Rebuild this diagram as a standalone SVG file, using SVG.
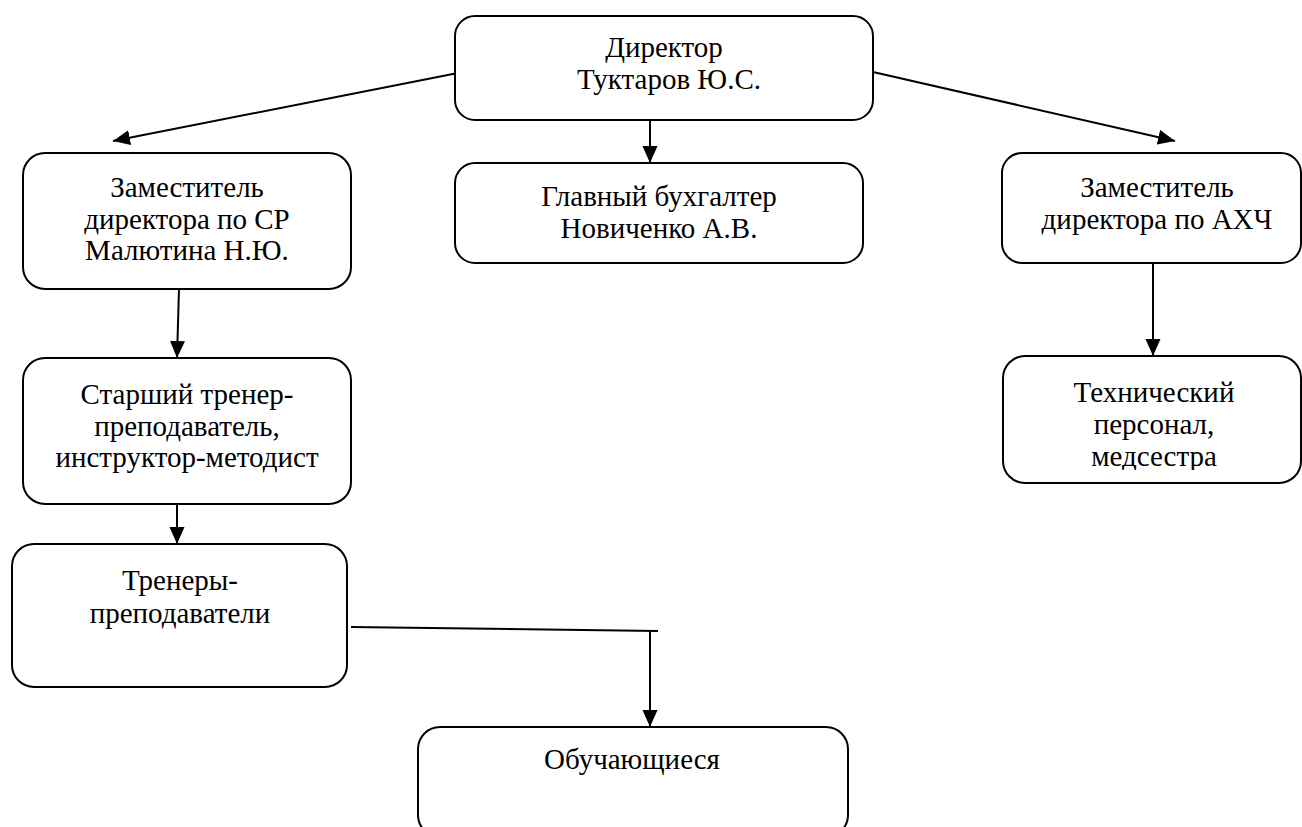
<svg xmlns="http://www.w3.org/2000/svg" width="1302" height="827" viewBox="0 0 1302 827">
<style>
.box{fill:#fff;stroke:#000;stroke-width:2}
.t{font-family:'Times New Roman','Liberation Serif',Tinos,'DejaVu Serif',serif;font-size:29px;fill:#000;text-anchor:middle}
.c{fill:none;stroke:#000;stroke-width:2}
</style>
<defs>
<marker id="ah" markerUnits="userSpaceOnUse" markerWidth="18" markerHeight="16" refX="17" refY="7.5" orient="auto">
<path d="M0,0 L17,7.5 L0,15 Z" fill="#000"/>
</marker>
<clipPath id="clipTech"><rect x="990" y="350" width="320" height="120"/></clipPath>
</defs>
<rect width="1302" height="827" fill="#fff"/>
<g id="connectors">
<line class="c" x1="463" y1="72" x2="113" y2="141" marker-end="url(#ah)"/>
<line class="c" x1="873" y1="72" x2="1175" y2="141" marker-end="url(#ah)"/>
<line class="c" x1="650" y1="120" x2="650" y2="163" marker-end="url(#ah)"/>
<line class="c" x1="179" y1="289" x2="177" y2="358" marker-end="url(#ah)"/>
<line class="c" x1="177" y1="504" x2="177" y2="544" marker-end="url(#ah)"/>
<line class="c" x1="1153" y1="263" x2="1153" y2="356" marker-end="url(#ah)"/>
<line class="c" x1="351" y1="627" x2="658" y2="631"/>
<line class="c" x1="650" y1="631" x2="650" y2="727" marker-end="url(#ah)"/>
</g>
<g id="director">
<rect class="box" x="455" y="16" width="418" height="104" rx="20"/>
<text class="t" x="664" y="57">Директор</text>
<text class="t" x="669" y="89">Туктаров Ю.С.</text>
</g>
<g id="deputy-sr">
<rect class="box" x="23" y="153" width="328" height="136" rx="22"/>
<text class="t" x="187" y="197">Заместитель</text>
<text class="t" x="187" y="229">директора по СР</text>
<text class="t" x="187" y="260">Малютина Н.Ю.</text>
</g>
<g id="accountant">
<rect class="box" x="455" y="163" width="408" height="100" rx="20"/>
<text class="t" x="659" y="206">Главный бухгалтер</text>
<text class="t" x="659" y="238">Новиченко А.В.</text>
</g>
<g id="deputy-ahch">
<rect class="box" x="1002" y="153" width="299" height="110" rx="20"/>
<text class="t" x="1157" y="197">Заместитель</text>
<text class="t" x="1157" y="229">директора по АХЧ</text>
</g>
<g id="senior-trainer">
<rect class="box" x="23" y="358" width="328" height="146" rx="22"/>
<text class="t" x="187" y="404">Старший тренер-</text>
<text class="t" x="187" y="436">преподаватель,</text>
<text class="t" x="187" y="467">инструктор-методист</text>
</g>
<g id="tech-staff">
<rect class="box" x="1003" y="356" width="298" height="127" rx="22"/>
<text class="t" x="1154" y="402">Технический</text>
<text class="t" x="1154" y="434">персонал,</text>
<text class="t" x="1154" y="466" clip-path="url(#clipTech)">медсестра</text>
</g>
<g id="trainers">
<rect class="box" x="12" y="544" width="335" height="143" rx="22"/>
<text class="t" x="180" y="590">Тренеры-</text>
<text class="t" x="180" y="623">преподаватели</text>
</g>
<g id="students">
<rect class="box" x="418" y="727" width="430" height="110" rx="22"/>
<text class="t" x="632" y="769">Обучающиеся</text>
</g>
</svg>
